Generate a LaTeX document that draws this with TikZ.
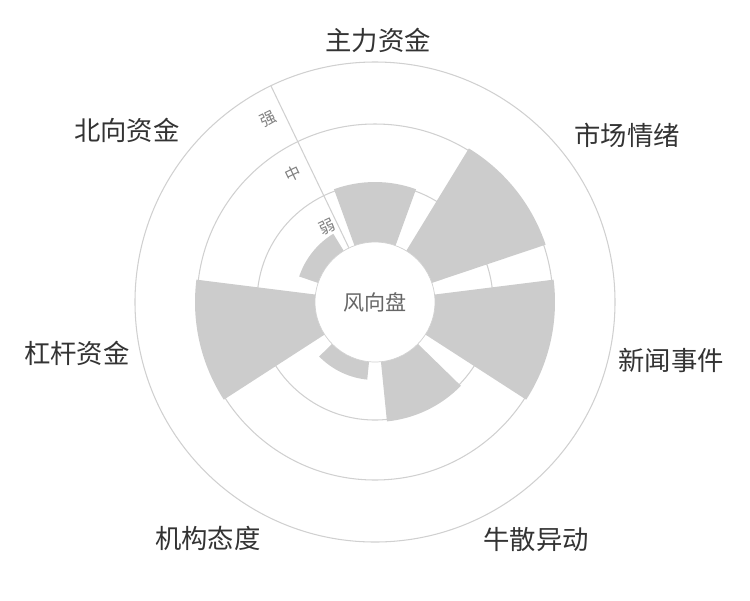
\documentclass[tikz,border=0pt]{standalone}
\usepackage{fontspec}
\setmainfont{Noto Sans CJK SC}
\usetikzlibrary{positioning}
\definecolor{barGray}{HTML}{CCCCCC}
\definecolor{ringGray}{HTML}{D0D0D0}
\definecolor{txtDark}{HTML}{333333}
\begin{document}
\begin{tikzpicture}[x=0.02cm,y=0.02cm,
                    catLB/.style={text=txtDark,
                                  font=\fontsize{15}{17}\selectfont},
                    lvlLB/.style={text=gray,
                                  font=\fontsize{9}{10}\selectfont,
                                  rotate=25.7},
                    ringND/.style={draw=ringGray,
                                   line width=0.6pt}]
        \useasboundingbox (-375,-298) rectangle (375,302);
        % rings
        \foreach \rad in {118,178,240}
            \draw[ringND] (0,0) circle (\rad);
        % bars
        \foreach \ang/\val in {90/120, 38.57/180, -12.86/180, -64.29/120,
                               -115.71/78, -167.14/180, 141.43/80}
            \fill[barGray] (\ang-20:60) arc (\ang-20:\ang+20:60)
                -- (\ang+20:\val) arc (\ang+20:\ang-20:\val) -- cycle;
        % hub
        \node[circle, draw=ringGray, fill=white, minimum size=2.4cm,
              text=gray!80!black, font=\fontsize{12}{14}\selectfont]
              (hub) at (0,0) {风向盘};
        \coordinate (axEnd) at (115.71:240);
        \draw[ringND] (hub) -- (axEnd);
        \node[lvlLB] (weak)   at (-48,75)   {弱};
        \node[lvlLB] (mid)    at (-82,128)  {中};
        \node[lvlLB] (strong) at (-107,183) {强};
        % categories
        \node[catLB] (zlzj) at (3,262)    {主力资金};
        \node[catLB] (sctq) at (252,167)  {市场情绪};
        \node[catLB] (xwsj) at (296,-58)  {新闻事件};
        \node[catLB] (nsyd) at (161,-238) {牛散异动};
        \node[catLB] (jgtd) at (-167,-236){机构态度};
        \node[catLB] (ggzj) at (-298,-51) {杠杆资金};
        \node[catLB] (bxzj) at (-248,172) {北向资金};
    \end{tikzpicture}
\end{document}
